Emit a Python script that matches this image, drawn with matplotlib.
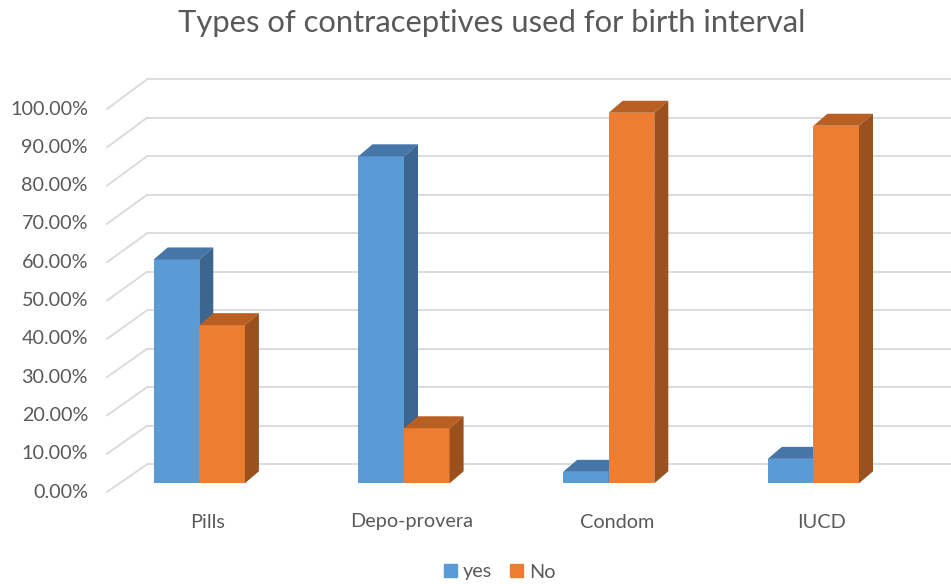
import matplotlib.pyplot as plt
from matplotlib.patches import Polygon, Patch

plt.rcParams['font.family'] = ['Lato', 'DejaVu Sans']

# data
categories = ['Pills', 'Depo-provera', 'Condom', 'IUCD']
yes_vals = [58.6, 85.6, 3.0, 6.4]
no_vals = [41.4, 14.4, 97.0, 93.6]
ticks = [0, 10, 20, 30, 40, 50, 60, 70, 80, 90, 100]

# colours (front, top, side)
blue = ('#5B9BD5', '#4676A8', '#3C6690')
orange = ('#ED7D31', '#B85F24', '#9A511E')
grid_c = '#D9D9D9'
text_c = '#595959'

# pixel scale of the fake 3d layout
PX_X = 204.7   # px per category
PX_Y = 3.82    # px per percent
x0_px, y0_px = 199.3, 483.3   # first category centre, bar base
W, H = 951, 584

fig = plt.figure(figsize=(W / 100, H / 100), dpi=100)
ax = fig.add_axes([0, 0, 1, 1])
ax.set_xlim(-x0_px / PX_X, (W - x0_px) / PX_X)
ax.set_ylim((y0_px - H) / PX_Y, y0_px / PX_Y)
ax.axis('off')

bw = 45.6 / PX_X
ddx, ddy = 14 / PX_X, 12 / PX_Y

# back wall gridlines + diagonal floor/wall lines
back_x = -52.3 / PX_X
front_x = -92.3 / PX_X
right_x = (W - x0_px) / PX_X
for t in ticks:
    yb = 4.97 + t * 1.008
    yf = -2.28 + t * 1.0026
    ax.plot([back_x, right_x], [yb, yb], color=grid_c, lw=1.3, zorder=1,
            solid_capstyle='butt')
    ax.plot([front_x, back_x], [yf, yb], color=grid_c, lw=1.3, zorder=1)
    ax.text(front_x - 19 / PX_X, yf, f'{t:.2f}%', ha='right', va='center',
            fontsize=14.2, color=text_c)


def bar3d(xl, v, cols, z):
    ax.bar(xl, v, width=bw, align='edge', color=cols[0], lw=0, zorder=z)
    xr = xl + bw
    top = [(xl, v), (xr, v), (xr + ddx, v + ddy), (xl + ddx, v + ddy)]
    side = [(xr, 0), (xr, v), (xr + ddx, v + ddy), (xr + ddx, ddy)]
    ax.add_patch(Polygon(top, closed=True, fc=cols[1], lw=0, zorder=z))
    ax.add_patch(Polygon(side, closed=True, fc=cols[2], lw=0, zorder=z))


for i, (y, n) in enumerate(zip(yes_vals, no_vals)):
    bar3d(i - bw, y, blue, 2 + 2 * i)
    bar3d(i, n, orange, 3 + 2 * i)
    ax.text(i + 8 / PX_X, (y0_px - 522) / PX_Y, categories[i], ha='center',
            va='center', fontsize=14.3, color=text_c)

fig.text(492 / W, 1 - 23 / H, 'Types of contraceptives used for birth interval',
         ha='center', va='center', fontsize=22.3, color=text_c)

handles = [Patch(color=blue[0], label='yes'), Patch(color=orange[0], label='No')]
fig.legend(handles=handles, loc='center', bbox_to_anchor=(500 / W, 1 - 572 / H),
           ncol=2, frameon=False, fontsize=14.3, handlelength=0.65,
           handleheight=0.65, handletextpad=0.3, columnspacing=0.9,
           labelcolor=text_c)

fig.savefig('out.png', dpi=100)
